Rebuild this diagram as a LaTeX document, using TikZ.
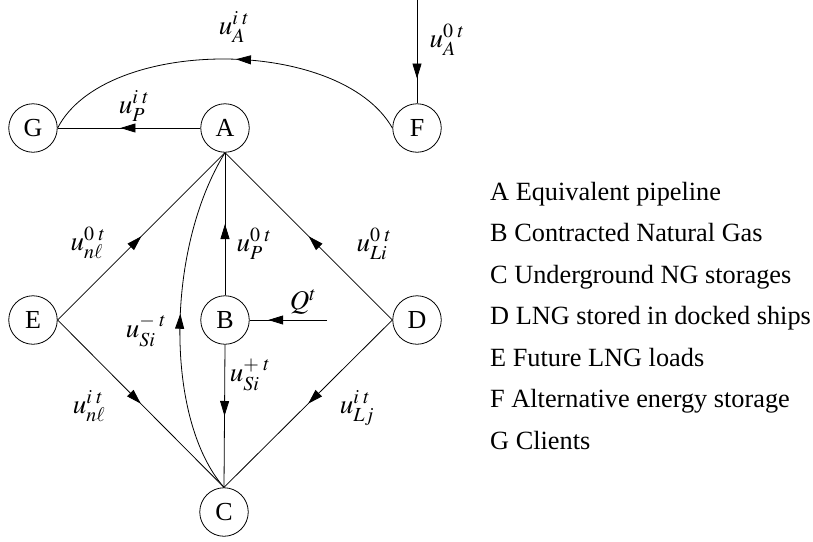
\documentclass[tikz,border=0pt]{standalone}
\usepackage{mathptmx}
\usepackage{fontspec}
\setmainfont{Liberation Serif}
\usetikzlibrary{arrows.meta,decorations.markings}

\tikzset{
  vertex/.style={circle, draw, line width=0.8pt, minimum size=48.5pt, inner sep=0pt,
    font=\fontsize{26}{26}\selectfont},
  link/.style={line width=0.8pt},
  midarrow/.style={postaction={decorate}, decoration={markings,
    mark=at position #1 with {\arrow{Triangle[length=15pt,width=9pt]}}}},
  flowlabel/.style={inner sep=0pt, font=\fontsize{27}{27}\selectfont},
  legend/.style={anchor=base west, inner sep=0pt, font=\fontsize{26.3}{26.3}\selectfont},
}

\begin{document}
\begin{tikzpicture}[x=1pt, y=-1pt]
  \useasboundingbox (0,0) rectangle (813,541);

  % stores and terminals
  \node[vertex] (G) at (33,128) {G};
  \node[vertex] (A) at (225,128) {A};
  \node[vertex] (F) at (417,128) {F};
  \node[vertex] (E) at (33,320) {E};
  \node[vertex] (B) at (225,320) {B};
  \node[vertex] (D) at (417,320) {D};
  \node[vertex] (C) at (224,512) {C};

  % free ends of the external inflows
  \coordinate (Fin) at (417,0);
  \coordinate (Qin) at (327,320);

  % flows
  \draw[link, midarrow=0.56] (A.west) -- (G.east);
  \draw[link, midarrow=0.47] (F.west) .. controls (340,36) and (105,36) .. (G.east);
  \draw[link, midarrow=0.76] (Fin) -- (F.north);
  \draw[link, midarrow=0.5] (E.east) -- (A.south);
  \draw[link, midarrow=0.5] (B.north) -- (A.south);
  \draw[link, midarrow=0.5] (D.west) -- (A.south);
  \draw[link, midarrow=0.76] (Qin) -- (B.east);
  \draw[link, midarrow=0.5] (E.east) -- (C.north);
  \draw[link, midarrow=0.5] (B.south) -- (C.north);
  \draw[link, midarrow=0.5] (D.west) -- (C.north);
  \draw[link, midarrow=0.52] (C.north) .. controls (165,420) and (165,250) .. (A.south);

  % flow labels
  \node[flowlabel] (lAi) at (234,27) {$u_A^{i\;t}$};
  \node[flowlabel] (lA0) at (447,40) {$u_A^{0\;t}$};
  \node[flowlabel] (lPi) at (134,106) {$u_P^{i\;t}$};
  \node[flowlabel] (lnl0) at (88,243) {$u_{n\ell}^{0\;t}$};
  \node[flowlabel] (lP0) at (254,244) {$u_P^{0\;t}$};
  \node[flowlabel] (lLi) at (374,244) {$u_{Li}^{0\;t}$};
  \node[flowlabel] (lQ) at (303,302) {$Q^t$};
  \node[flowlabel] (lSm) at (146,331) {$u_{Si}^{-\;t}$};
  \node[flowlabel] (lSp) at (250,375) {$u_{Si}^{+\;t}$};
  \node[flowlabel] (lnli) at (89,406) {$u_{n\ell}^{i\;t}$};
  \node[flowlabel] (lLj) at (357,408) {$u_{Lj}^{i\;t}$};

  % legend
  \node[legend] (kA) at (490,200) {A Equivalent pipeline};
  \node[legend] (kB) at (490,241.5) {B Contracted Natural Gas};
  \node[legend] (kC) at (490,283) {C Underground NG storages};
  \node[legend] (kD) at (490,324.5) {D LNG stored in docked ships};
  \node[legend] (kE) at (490,366) {E Future LNG loads};
  \node[legend] (kF) at (490,407.5) {F Alternative energy storage};
  \node[legend] (kG) at (490,449) {G Clients};
\end{tikzpicture}
\end{document}
